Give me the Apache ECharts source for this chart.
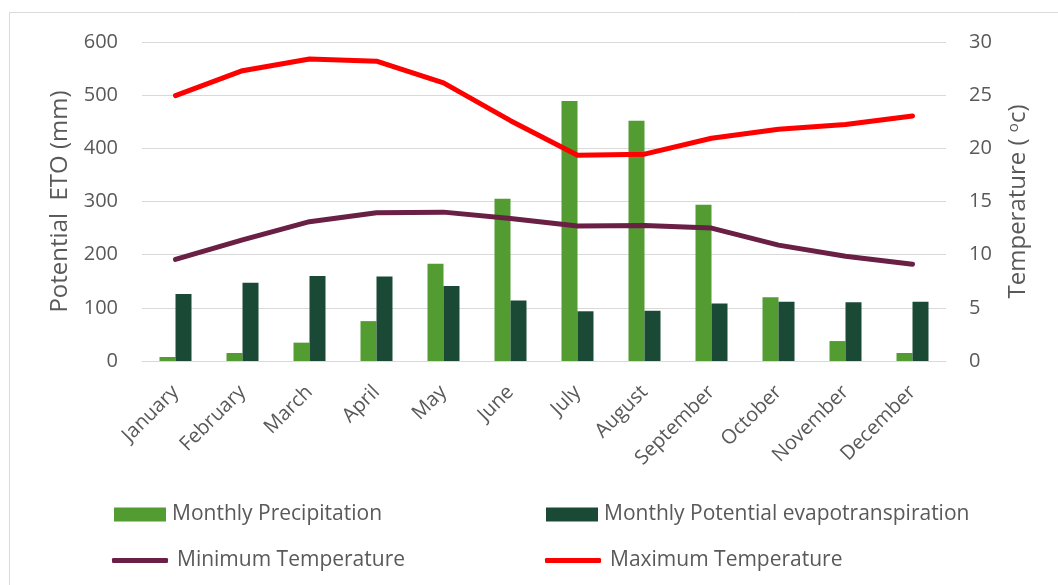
<!DOCTYPE html>
<html>
<head>
<meta charset="utf-8">
<script src="https://cdn.jsdelivr.net/npm/echarts@6/dist/echarts.min.js"></script>
<style>
  html, body { margin: 0; padding: 0; background: #ffffff; }
  #chart { width: 1058px; height: 585px; }
</style>
</head>
<body>
<div id="chart"></div>
<script>
// Monthly climate data
const months = ['January', 'February', 'March', 'April', 'May', 'June',
                'July', 'August', 'September', 'October', 'November', 'December'];
const precipitation = [7.5, 15, 34.5, 75, 183, 305, 489, 452, 294, 120, 37.5, 15];
const evapotranspiration = [126, 147, 160, 159, 141, 114, 93.5, 94.5, 108, 111.5, 110.5, 111.5];
const minTemperature = [9.55, 11.4, 13.1, 13.95, 14.0, 13.4, 12.7, 12.75, 12.5, 10.9, 9.85, 9.1];
const maxTemperature = [24.95, 27.3, 28.4, 28.2, 26.15, 22.6, 19.35, 19.45, 20.95, 21.8, 22.25, 23.05];
const etoTicks = [0, 600, 100];
const tempTicks = [0, 30, 5];

const FONT = '"Open Sans", "Liberation Sans", sans-serif';
const TEXT = '#595959';
const GRID = '#D9D9D9';
const colors = {
  precip: '#529C32',
  eto: '#1A4A36',
  tmin: '#6A1F45',
  tmax: '#FF0000'
};

const chart = echarts.init(document.getElementById('chart'), null, { renderer: 'canvas' });

function legendItem(name, left, top, isLine) {
  return {
    data: [name],
    left: left,
    top: top,
    icon: isLine ? 'roundRect' : 'rect',
    itemWidth: isLine ? 56 : 52,
    itemHeight: isLine ? 5 : 14,
    itemGap: 0,
    padding: 0,
    textStyle: { fontFamily: FONT, fontSize: 21, color: TEXT, padding: [0, 0, 0, isLine ? 4 : 1] },
    selectedMode: false
  };
}

chart.setOption({
  animation: false,
  backgroundColor: '#ffffff',
  textStyle: { fontFamily: FONT },
  graphic: [{
    type: 'rect',
    shape: { x: 9.5, y: 12.5, width: 1200, height: 800 },
    style: { fill: 'none', stroke: GRID, lineWidth: 1 },
    silent: true,
    z: -1
  }],
  grid: { left: 142, right: 112, top: 42, bottom: 224, containLabel: false },
  legend: [
    legendItem('Monthly Precipitation', 114, 504, false),
    legendItem('Monthly Potential evapotranspiration', 546, 504, false),
    legendItem('Minimum Temperature', 112, 550, true),
    legendItem('Maximum Temperature', 545, 550, true)
  ],
  xAxis: {
    type: 'category',
    data: months,
    axisLine: { lineStyle: { color: GRID, width: 1 } },
    axisTick: { show: false },
    axisLabel: {
      rotate: 45,
      interval: 0,
      margin: 28,
      fontFamily: FONT,
      fontSize: 20,
      color: TEXT
    }
  },
  yAxis: [{
    type: 'value',
    min: etoTicks[0], max: etoTicks[1], interval: etoTicks[2],
    name: 'Potential  ETO (mm)',
    nameLocation: 'middle',
    nameGap: 70,
    nameTextStyle: { fontFamily: FONT, fontSize: 24, color: TEXT },
    axisLine: { show: false },
    axisTick: { show: false },
    splitLine: { lineStyle: { color: GRID, width: 1 } },
    axisLabel: { margin: 24, fontFamily: FONT, fontSize: 20, color: TEXT }
  }, {
    type: 'value',
    min: tempTicks[0], max: tempTicks[1], interval: tempTicks[2],
    name: 'Temperature ( {sup|o}c)',
    nameLocation: 'middle',
    nameGap: 60,
    nameRotate: 90,
    nameTextStyle: {
      fontFamily: FONT, fontSize: 24, color: TEXT,
      rich: { sup: { fontFamily: FONT, fontSize: 15, color: TEXT, verticalAlign: 'top', padding: [0, 0, 10, 0] } }
    },
    axisLine: { show: false },
    axisTick: { show: false },
    splitLine: { show: false },
    axisLabel: { margin: 23, fontFamily: FONT, fontSize: 20, color: TEXT }
  }],
  series: [{
    name: 'Monthly Precipitation',
    type: 'bar',
    yAxisIndex: 0,
    data: precipitation,
    barWidth: 16,
    barGap: '0%',
    itemStyle: { color: colors.precip },
    z: 2
  }, {
    name: 'Monthly Potential evapotranspiration',
    type: 'bar',
    yAxisIndex: 0,
    data: evapotranspiration,
    barWidth: 16,
    barGap: '0%',
    itemStyle: { color: colors.eto },
    z: 2
  }, {
    name: 'Minimum Temperature',
    type: 'line',
    yAxisIndex: 1,
    data: minTemperature,
    showSymbol: false,
    symbol: 'none',
    lineStyle: { color: colors.tmin, width: 5, cap: 'round', join: 'round' },
    itemStyle: { color: colors.tmin },
    z: 3
  }, {
    name: 'Maximum Temperature',
    type: 'line',
    yAxisIndex: 1,
    data: maxTemperature,
    showSymbol: false,
    symbol: 'none',
    lineStyle: { color: colors.tmax, width: 5, cap: 'round', join: 'round' },
    itemStyle: { color: colors.tmax },
    z: 4
  }]
});
</script>
</body>
</html>
